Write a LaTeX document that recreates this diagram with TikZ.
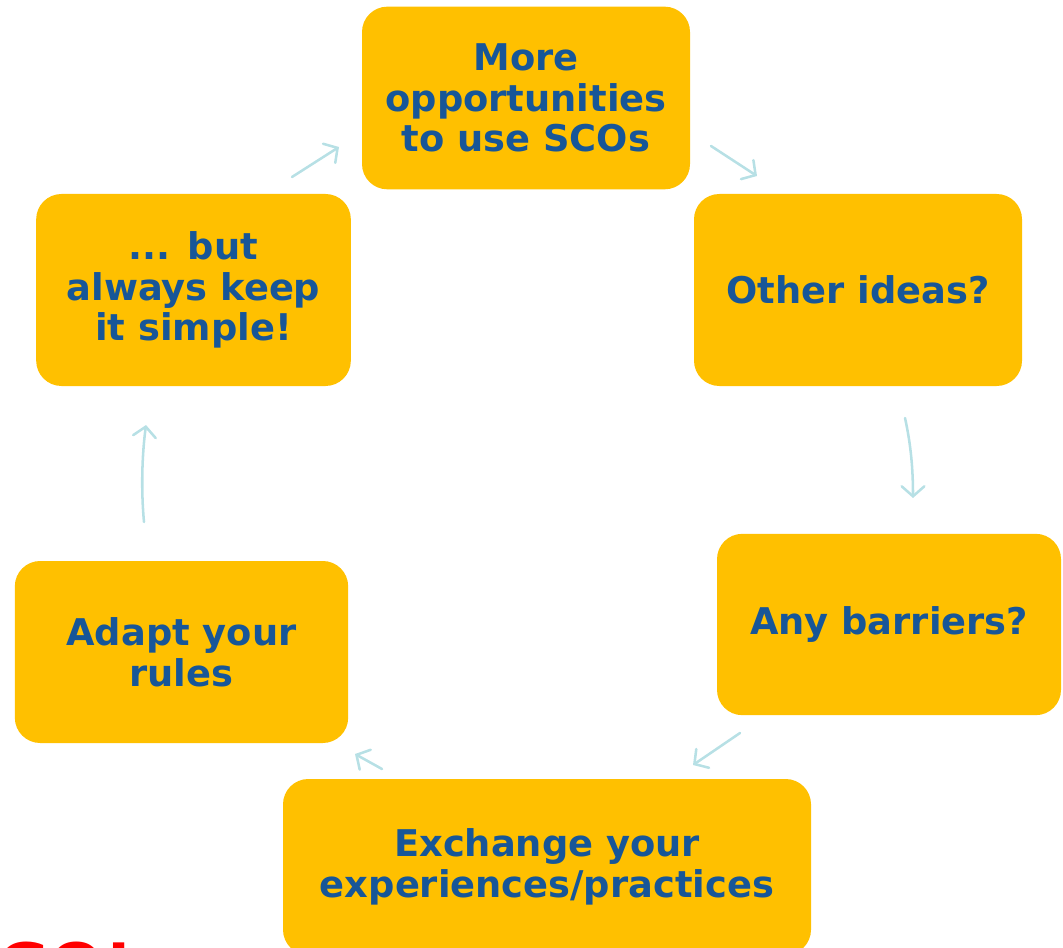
\documentclass[tikz,border=0pt]{standalone}
\usepackage{fontspec}
\setmainfont{DejaVu Sans}
\usetikzlibrary{arrows.meta}
\definecolor{boxgold}{RGB}{255,192,0}
\definecolor{textblue}{RGB}{23,86,152}
\definecolor{arrowteal}{RGB}{183,224,229}
\definecolor{alertred}{RGB}{255,0,0}
\begin{document}
\begin{tikzpicture}[x=0.75pt,y=-0.75pt,
  stepbox/.style={fill=boxgold, draw=none, rounded corners=19pt,
    text=textblue, font=\bfseries\fontsize{27.6}{30.5}\selectfont,
    align=center, inner sep=0pt},
  flow/.style={draw=arrowteal, line width=1.9pt, line cap=round,
    -{Straight Barb[length=7.5pt,width=17pt,line cap=round]}}]
\useasboundingbox (0,0) rectangle (1063,948);
\clip (0,0) rectangle (1063,948);

% the six steps of the cycle
\node[stepbox, minimum width=246pt, minimum height=137pt] (more) at (526,98)
  {More\\opportunities\\to use SCOs};
\node[stepbox, minimum width=246pt, minimum height=144pt] (ideas) at (858,290)
  {Other ideas?};
\node[stepbox, minimum width=258pt, minimum height=136pt] (barriers) at (889,624.5)
  {Any barriers?};
\node[stepbox, minimum width=396pt, minimum height=132pt] (exchange) at (547,867)
  {Exchange your\\experiences/practices};
\node[stepbox, minimum width=250pt, minimum height=136.5pt] (adapt) at (181.5,652)
  {Adapt your\\rules};
\node[stepbox, minimum width=236pt, minimum height=144pt] (simple) at (193.5,290)
  {... but\\always keep\\it simple!};

% arrow end points between the steps
\coordinate (a1s) at (292,177); \coordinate (a1e) at (339,147);
\coordinate (a2s) at (711,146); \coordinate (a2e) at (757,176);
\coordinate (a3s) at (905,418); \coordinate (a3e) at (913,498);
\coordinate (a4s) at (740,733); \coordinate (a4e) at (693,765);
\coordinate (a5s) at (382,769); \coordinate (a5e) at (355,754);
\coordinate (a6s) at (144,522); \coordinate (a6e) at (146,425);

\draw[flow] (a1s) -- (a1e);
\draw[flow] (a2s) -- (a2e);
\draw[flow] (a3s) .. controls (911,445) and (913,470) .. (a3e);
\draw[flow] (a4s) -- (a4e);
\draw[flow] (a5s) -- (a5e);
\draw[flow] (a6s) .. controls (141,490) and (142,455) .. (a6e);

% slogan running off the lower edge
\node[anchor=base west, inner sep=0pt, text=alertred,
  font=\bfseries\fontsize{48}{48}\selectfont] (slogan) at (-3,989) {GO!};
\end{tikzpicture}
\end{document}
